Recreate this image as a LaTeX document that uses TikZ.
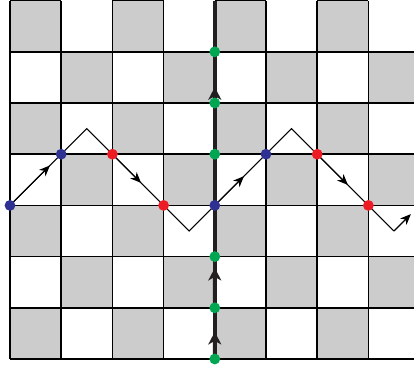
\documentclass[tikz,border=0pt]{standalone}
\usetikzlibrary{arrows.meta,calc}
\definecolor{cellgray}{HTML}{CCCCCC}
\definecolor{dotblue}{HTML}{2E3192}
\definecolor{dotred}{HTML}{ED1C24}
\definecolor{dotgreen}{HTML}{00A651}
\definecolor{axisdark}{HTML}{231F20}
\begin{document}
\begin{tikzpicture}[x=1cm,y=1cm,
  gridline/.style={line width=0.8pt, black},
  axisline/.style={line width=2.2pt, axisdark},
  zigline/.style={line width=0.6pt, black},
  zigarrow/.style={zigline, -{Stealth[length=6pt,width=5pt,inset=1.8pt]}},
  axisarrow/.style={line width=2.2pt, axisdark, -{Stealth[length=7pt,width=7.2pt,inset=2pt]}},
  dot/.style={circle, inner sep=0pt, minimum size=6pt, draw=none}]
\useasboundingbox (-0.195,-0.195) rectangle (7.891,7.012);
\clip (-0.195,-0.195) rectangle (7.891,7.012);
% checkerboard
\foreach \c in {0,...,7}{
  \foreach \r in {0,...,6}{
    \pgfmathtruncatemacro\s{mod(\c+\r,2)}
    \ifnum\s=0 \fill[cellgray] (\c,\r) rectangle ++(1,1); \fi
  }
}
% grid lines
\foreach \y in {0,...,6} \draw[gridline] (0,\y) -- (7.891,\y);
\foreach \x in {0,...,7} \draw[gridline] (\x,0) -- (\x,7);
\foreach \x in {0,2,4,6} \draw[gridline] (\x,7) -- ++(1,0);
% axis coordinates
\coordinate (g0) at (4,0);
\coordinate (g1) at (4,1);
\coordinate (g2) at (4,2);
\coordinate (g3) at (4,3);
\coordinate (g4) at (4,4);
\coordinate (g5) at (4,5);
\coordinate (g6) at (4,6);
\coordinate (gtop) at (4,7);
\draw[axisline] (g0) -- (gtop);
\draw[axisarrow] (g0) -- ($(g0)!0.53!(g1)$);
\draw[axisarrow] (g1) -- ($(g1)!0.78!(g2)$);
\draw[axisarrow] (g5) -- ($(g5)!0.31!(g6)$);
% zigzag
\coordinate (z0) at (0,3);
\coordinate (z1) at (1,4);
\coordinate (p1) at (1.5,4.5);
\coordinate (z2) at (2,4);
\coordinate (z3) at (3,3);
\coordinate (v1) at (3.5,2.5);
\coordinate (z4) at (4,3);
\coordinate (z5) at (5,4);
\coordinate (p2) at (5.5,4.5);
\coordinate (z6) at (6,4);
\coordinate (z7) at (7,3);
\coordinate (v2) at (7.5,2.5);
\coordinate (zend) at (7.83,2.83);
\draw[zigline] (z0) -- (z1) -- (p1) -- (z2) -- (z3) -- (v1) -- (z4) -- (z5) -- (p2) -- (z6) -- (z7) -- (v2);
\draw[zigarrow] (v2) -- (zend);
\draw[zigarrow] (z0) -- ($(z0)!0.78!(z1)$);
\draw[zigarrow] (z2) -- ($(z2)!0.56!(z3)$);
\draw[zigarrow] (z4) -- ($(z4)!0.57!(z5)$);
\draw[zigarrow] (z6) -- ($(z6)!0.6!(z7)$);
% dots
\node[dot, fill=dotblue] (b0) at (z0) {};
\node[dot, fill=dotblue] (b1) at (z1) {};
\node[dot, fill=dotblue] (b2) at (z4) {};
\node[dot, fill=dotblue] (b3) at (z5) {};
\node[dot, fill=dotred] (r0) at (z2) {};
\node[dot, fill=dotred] (r1) at (z3) {};
\node[dot, fill=dotred] (r2) at (z6) {};
\node[dot, fill=dotred] (r3) at (z7) {};
\node[dot, fill=dotgreen] (n0) at (g0) {};
\node[dot, fill=dotgreen] (n1) at (g1) {};
\node[dot, fill=dotgreen] (n2) at (g2) {};
\node[dot, fill=dotgreen] (n4) at (g4) {};
\node[dot, fill=dotgreen] (n5) at (g5) {};
\node[dot, fill=dotgreen] (n6) at (g6) {};
\end{tikzpicture}
\end{document}
